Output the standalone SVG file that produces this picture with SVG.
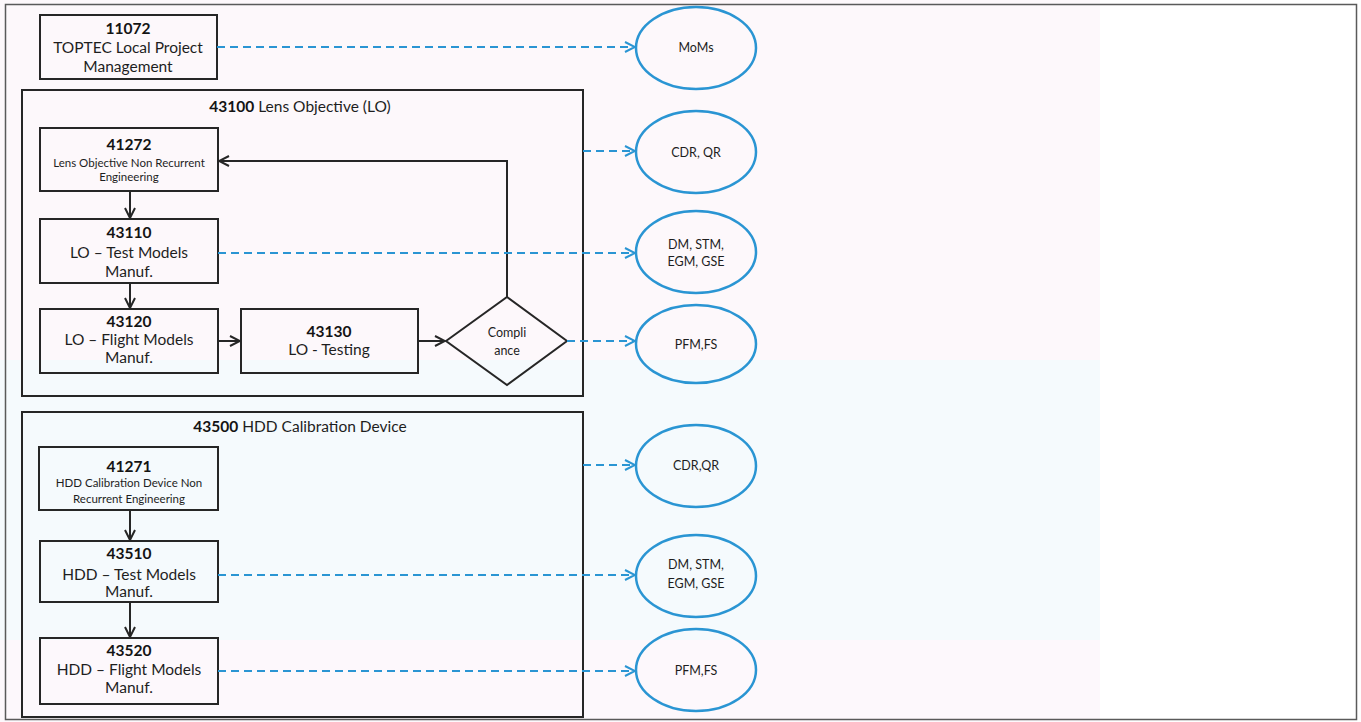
<svg xmlns="http://www.w3.org/2000/svg" width="1361" height="722" viewBox="0 0 1361 722">
  <defs>
    <style>
      .box { fill: none; stroke: #262626; stroke-width: 2; }
      .frame { fill: none; stroke: #262626; stroke-width: 2; }
      .out { fill: none; stroke: #2a95d3; stroke-width: 2.5; }
      .t { font-family: Lato, "Liberation Sans", sans-serif; fill: #1e1e1e; text-anchor: middle; }
      .n { font-size: 15.5px; font-weight: bold; fill: #141414; }
      .m { font-size: 15.5px; }
      .s { font-size: 11.5px; }
      .e { font-size: 12.5px; }
      .flow { fill: none; stroke: #262626; stroke-width: 2; }
      .dash { fill: none; stroke: #2a95d3; stroke-width: 2; stroke-dasharray: 8 5; }
    </style>
    <marker id="ak" viewBox="0 0 12 12" refX="11" refY="6" markerWidth="12" markerHeight="12" markerUnits="userSpaceOnUse" orient="auto">
      <path d="M1,1 L11,6 L1,11" fill="none" stroke="#262626" stroke-width="2"/>
    </marker>
    <marker id="ab" viewBox="0 0 12 12" refX="11" refY="6" markerWidth="12" markerHeight="12" markerUnits="userSpaceOnUse" orient="auto">
      <path d="M1,1 L11,6 L1,11" fill="none" stroke="#2a95d3" stroke-width="2"/>
    </marker>
  </defs>

  <!-- page background with faint paper tint -->
  <g id="page">
    <rect x="0" y="0" width="1361" height="722" fill="#ffffff"/>
    <rect x="0" y="0" width="1100" height="360" fill="#fdf8fb"/>
    <rect x="0" y="360" width="1100" height="280" fill="#f5fafd"/>
    <rect x="0" y="640" width="1100" height="82" fill="#fdf8fc"/>
    <rect x="5.5" y="4.5" width="1351" height="715" fill="none" stroke="#5a5a5a" stroke-width="1.5"/>
  </g>

  <!-- group frames -->
  <g id="lo-group">
    <rect class="frame" x="22" y="90" width="561" height="306"/>
    <text class="t m" x="300" y="112"><tspan font-weight="bold" fill="#141414">43100</tspan> Lens Objective (LO)</text>
  </g>
  <g id="hdd-group">
    <rect class="frame" x="22" y="412" width="561" height="305"/>
    <text class="t m" x="300" y="432"><tspan font-weight="bold" fill="#141414">43500</tspan> HDD Calibration Device</text>
  </g>

  <!-- work packages -->
  <g id="wp-11072">
    <rect class="box" x="40" y="15" width="177" height="64"/>
    <text class="t n" x="128" y="34">11072</text>
    <text class="t m" x="128" y="53">TOPTEC Local Project</text>
    <text class="t m" x="128" y="72">Management</text>
  </g>
  <g id="wp-41272">
    <rect class="box" x="40" y="128" width="178" height="63"/>
    <text class="t n" x="129" y="150">41272</text>
    <text class="t s" x="129" y="167">Lens Objective Non Recurrent</text>
    <text class="t s" x="129" y="181">Engineering</text>
  </g>
  <g id="wp-43110">
    <rect class="box" x="40" y="219" width="178" height="64"/>
    <text class="t n" x="129" y="238">43110</text>
    <text class="t m" x="129" y="258">LO – Test Models</text>
    <text class="t m" x="129" y="277">Manuf.</text>
  </g>
  <g id="wp-43120">
    <rect class="box" x="40" y="309" width="178" height="64"/>
    <text class="t n" x="129" y="327">43120</text>
    <text class="t m" x="129" y="345">LO – Flight Models</text>
    <text class="t m" x="129" y="363">Manuf.</text>
  </g>
  <g id="wp-43130">
    <rect class="box" x="241" y="309" width="177" height="64"/>
    <text class="t n" x="329" y="337">43130</text>
    <text class="t m" x="329" y="355">LO - Testing</text>
  </g>
  <g id="compliance">
    <polygon class="box" points="446,341 507,297 567,341 507,385"/>
    <text class="t e" x="507" y="337">Compli</text>
    <text class="t e" x="507" y="355">ance</text>
  </g>
  <g id="wp-41271">
    <rect class="box" x="39" y="447" width="179" height="63"/>
    <text class="t n" x="129" y="472">41271</text>
    <text class="t s" x="129" y="487">HDD Calibration Device Non</text>
    <text class="t s" x="129" y="503">Recurrent Engineering</text>
  </g>
  <g id="wp-43510">
    <rect class="box" x="40" y="541" width="178" height="61"/>
    <text class="t n" x="129" y="559">43510</text>
    <text class="t m" x="129" y="580">HDD – Test Models</text>
    <text class="t m" x="129" y="597">Manuf.</text>
  </g>
  <g id="wp-43520">
    <rect class="box" x="40" y="638" width="178" height="66"/>
    <text class="t n" x="129" y="656">43520</text>
    <text class="t m" x="129" y="675">HDD – Flight Models</text>
    <text class="t m" x="129" y="693">Manuf.</text>
  </g>

  <!-- deliverables -->
  <g id="out-moms">
    <ellipse class="out" cx="696" cy="48" rx="60" ry="41"/>
    <text class="t e" x="696" y="52">MoMs</text>
  </g>
  <g id="out-lo-cdr">
    <ellipse class="out" cx="696" cy="152" rx="60" ry="41"/>
    <text class="t e" x="696" y="157">CDR, QR</text>
  </g>
  <g id="out-lo-models">
    <ellipse class="out" cx="696" cy="252" rx="60" ry="41"/>
    <text class="t e" x="696" y="249">DM, STM,</text>
    <text class="t e" x="696" y="266">EGM, GSE</text>
  </g>
  <g id="out-lo-pfm">
    <ellipse class="out" cx="696" cy="344" rx="60" ry="39"/>
    <text class="t e" x="696" y="349">PFM,FS</text>
  </g>
  <g id="out-hdd-cdr">
    <ellipse class="out" cx="696" cy="466" rx="60" ry="41"/>
    <text class="t e" x="696" y="470">CDR,QR</text>
  </g>
  <g id="out-hdd-models">
    <ellipse class="out" cx="696" cy="576" rx="60" ry="41"/>
    <text class="t e" x="696" y="569">DM, STM,</text>
    <text class="t e" x="696" y="588">EGM, GSE</text>
  </g>
  <g id="out-hdd-pfm">
    <ellipse class="out" cx="696" cy="670" rx="60" ry="41"/>
    <text class="t e" x="696" y="675">PFM,FS</text>
  </g>

  <!-- connectors -->
  <g id="connectors">
    <line class="flow" x1="130" y1="191" x2="130" y2="218" marker-end="url(#ak)"/>
    <line class="flow" x1="130" y1="283" x2="130" y2="308" marker-end="url(#ak)"/>
    <line class="flow" x1="218" y1="341" x2="240" y2="341" marker-end="url(#ak)"/>
    <line class="flow" x1="418" y1="341" x2="445" y2="341" marker-end="url(#ak)"/>
    <path class="flow" d="M507,297 V161 H219" marker-end="url(#ak)"/>
    <line class="flow" x1="130" y1="510" x2="130" y2="540" marker-end="url(#ak)"/>
    <line class="flow" x1="130" y1="602" x2="130" y2="637" marker-end="url(#ak)"/>

    <line class="dash" x1="217" y1="47" x2="635" y2="47" marker-end="url(#ab)"/>
    <line class="dash" x1="583" y1="151" x2="635" y2="151" marker-end="url(#ab)"/>
    <line class="dash" x1="218" y1="253" x2="635" y2="253" marker-end="url(#ab)"/>
    <line class="dash" x1="567" y1="341" x2="635" y2="341" marker-end="url(#ab)"/>
    <line class="dash" x1="583" y1="465" x2="635" y2="465" marker-end="url(#ab)"/>
    <line class="dash" x1="218" y1="575" x2="635" y2="575" marker-end="url(#ab)"/>
    <line class="dash" x1="218" y1="671" x2="635" y2="671" marker-end="url(#ab)"/>
  </g>
</svg>
